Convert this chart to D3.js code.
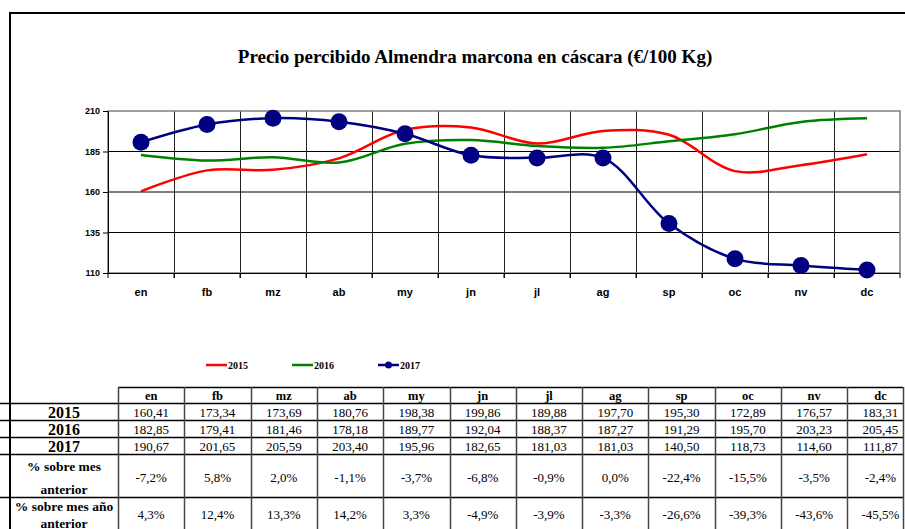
<!DOCTYPE html>
<html>
<head>
<meta charset="utf-8">
<script src="https://cdn.jsdelivr.net/npm/d3@7"></script>
<style>
  body { margin: 0; background: #fff; }
  svg { display: block; }
</style>
</head>
<body>
<div id="chart"></div>
<script>
// data
const months = ["en", "fb", "mz", "ab", "my", "jn", "jl", "ag", "sp", "oc", "nv", "dc"];
const v2015 = [160.41, 173.34, 173.69, 180.76, 198.38, 199.86, 189.88, 197.70, 195.30, 172.89, 176.57, 183.31];
const v2016 = [182.85, 179.41, 181.46, 178.18, 189.77, 192.04, 188.37, 187.27, 191.29, 195.70, 203.23, 205.45];
const v2017 = [190.67, 201.65, 205.59, 203.40, 195.96, 182.65, 181.03, 181.03, 140.50, 118.73, 114.60, 111.87];
const pctMes = ["-7,2%", "5,8%", "2,0%", "-1,1%", "-3,7%", "-6,8%", "-0,9%", "0,0%", "-22,4%", "-15,5%", "-3,5%", "-2,4%"];
const pctAnio = ["4,3%", "12,4%", "13,3%", "14,2%", "3,3%", "-4,9%", "-3,9%", "-3,3%", "-26,6%", "-39,3%", "-43,6%", "-45,5%"];
const yTicks = [110, 135, 160, 185, 210];

const series = [
  { name: "2015", values: v2015, color: "#ff0000", dots: false },
  { name: "2016", values: v2016, color: "#008000", dots: false },
  { name: "2017", values: v2017, color: "#000080", dots: true }
];

const W = 905, H = 529;
const serif = "'Liberation Serif', 'Times New Roman', serif";
const sans = "'Liberation Sans', Arial, sans-serif";

const svg = d3.select("#chart").append("svg").attr("width", W).attr("height", H);

// outer frame (top + left visible)
svg.append("path")
  .attr("d", `M10,${H} V13 H${W + 5}`)
  .attr("fill", "none").attr("stroke", "#000").attr("stroke-width", 2);

svg.append("text")
  .attr("x", 475).attr("y", 63)
  .attr("text-anchor", "middle")
  .attr("font-family", serif).attr("font-weight", "bold").attr("font-size", 19)
  .text("Precio percibido Almendra marcona en cáscara (€/100 Kg)");

// plot area
const plot = { left: 108, right: 900, top: 111, bottom: 273 };
const x = d3.scaleBand().domain(months).range([plot.left, plot.right]);
const y = d3.scaleLinear().domain([110, 210]).range([plot.bottom, plot.top]);

// horizontal gridlines
svg.append("g").selectAll("line").data(yTicks.slice(1, -1)).join("line")
  .attr("x1", plot.left).attr("x2", plot.right)
  .attr("y1", d => y(d)).attr("y2", d => y(d))
  .attr("stroke", "#000").attr("stroke-width", 1);

// vertical gridlines at band edges
const edges = months.slice(1).map(m => x(m));
svg.append("g").selectAll("line").data(edges).join("line")
  .attr("x1", d => Math.round(d) + 0.5).attr("x2", d => Math.round(d) + 0.5)
  .attr("y1", plot.top).attr("y2", plot.bottom + 5)
  .attr("stroke", "#222").attr("stroke-width", 1);

// plot border
svg.append("rect")
  .attr("x", plot.left).attr("y", plot.top)
  .attr("width", plot.right - plot.left).attr("height", plot.bottom - plot.top)
  .attr("fill", "none").attr("stroke", "#808080").attr("stroke-width", 1.5);

// y axis
const yAxis = svg.append("g")
  .attr("transform", `translate(${plot.left},0)`)
  .call(d3.axisLeft(y).tickValues(yTicks).tickSize(5).tickSizeOuter(0));
yAxis.select(".domain").attr("stroke", "#000");
yAxis.selectAll(".tick line").attr("stroke", "#000");
yAxis.selectAll("text")
  .attr("font-family", sans).attr("font-weight", "bold").attr("font-size", 9).attr("fill", "#000");

// x axis
const xAxis = svg.append("g")
  .attr("transform", `translate(0,${plot.bottom})`)
  .call(d3.axisBottom(x).tickSize(0).tickPadding(15));
xAxis.select(".domain").attr("stroke", "#000").attr("d", `M${plot.left - 5},0.5H${plot.right}`);
xAxis.selectAll("text")
  .attr("font-family", sans).attr("font-weight", "bold").attr("font-size", 11).attr("fill", "#000");
svg.append("g").selectAll("line").data([plot.left].concat(edges, [plot.right])).join("line")
  .attr("x1", d => d).attr("x2", d => d)
  .attr("y1", plot.bottom).attr("y2", plot.bottom + 5)
  .attr("stroke", "#000");

// lines
const line = d3.line()
  .x((d, i) => x(months[i]) + x.bandwidth() / 2)
  .y(d => y(d))
  .curve(d3.curveCatmullRom.alpha(0.5));

series.forEach(s => {
  svg.append("path")
    .datum(s.values)
    .attr("d", line)
    .attr("fill", "none")
    .attr("stroke", s.color)
    .attr("stroke-width", 2.5);
  if (s.dots) {
    svg.append("g").selectAll("circle").data(s.values).join("circle")
      .attr("cx", (d, i) => x(months[i]) + x.bandwidth() / 2)
      .attr("cy", d => y(d))
      .attr("r", 8.5)
      .attr("fill", s.color);
  }
});

// legend
const legend = svg.append("g").selectAll("g").data(series).join("g")
  .attr("transform", (d, i) => `translate(${206 + i * 86},365)`);
legend.append("line")
  .attr("x1", 0).attr("x2", 21).attr("y1", 0).attr("y2", 0)
  .attr("stroke", d => d.color).attr("stroke-width", 2.5);
legend.filter(d => d.dots).append("circle")
  .attr("cx", 10.5).attr("cy", 0).attr("r", 3.5).attr("fill", d => d.color);
legend.append("text")
  .attr("x", 22).attr("y", 3.5)
  .attr("font-family", serif).attr("font-weight", "bold").attr("font-size", 10)
  .text(d => d.name);

// data table
const colX = d3.scaleBand().domain(months).range([118, 118 + 12 * 66.3]);
const tableRight = 903;
const rowTops = [387, 403, 420, 437, 454, 497, 540];
const fmt = v => v.toFixed(2).replace(".", ",");

const table = svg.append("g");
// horizontal lines
table.selectAll("line.h").data(rowTops).join("line")
  .attr("class", "h")
  .attr("x1", (d, i) => i === 0 ? 118 : 0).attr("x2", tableRight)
  .attr("y1", d => d + 0.5).attr("y2", d => d + 0.5)
  .attr("stroke", "#000").attr("stroke-width", 1.5);
// vertical lines
const vEdges = months.map(m => colX(m)).concat([tableRight]);
table.selectAll("line.v").data(vEdges).join("line")
  .attr("class", "v")
  .attr("x1", d => Math.round(d) + 0.5).attr("x2", d => Math.round(d) + 0.5)
  .attr("y1", rowTops[0]).attr("y2", H)
  .attr("stroke", "#444").attr("stroke-width", 1.5);

const cx = m => colX(m) + colX.bandwidth() / 2;

// header
table.selectAll("text.hd").data(months).join("text")
  .attr("class", "hd")
  .attr("x", cx).attr("y", 399.5)
  .attr("text-anchor", "middle")
  .attr("font-family", serif).attr("font-weight", "bold").attr("font-size", 12.5)
  .text(d => d);

// value rows (label line positions given as baselines)
const rows = [
  { label: ["2015"], lineY: [417.5], vals: v2015.map(fmt), valY: 416.5, size: 16 },
  { label: ["2016"], lineY: [434.5], vals: v2016.map(fmt), valY: 433.5, size: 16 },
  { label: ["2017"], lineY: [451.5], vals: v2017.map(fmt), valY: 450.5, size: 16 },
  { label: ["% sobre mes", "anterior"], lineY: [470.5, 493.5], vals: pctMes, valY: 481.5, size: 13.5 },
  { label: ["% sobre mes año", "anterior"], lineY: [510.5, 527.5], vals: pctAnio, valY: 518.5, size: 13.5 }
];

rows.forEach(r => {
  const lbl = table.append("text")
    .attr("text-anchor", "middle")
    .attr("font-family", serif).attr("font-weight", "bold").attr("font-size", r.size);
  r.label.forEach((t, k) => {
    lbl.append("tspan").attr("x", 64).attr("y", r.lineY[k]).text(t);
  });
  table.append("g").selectAll("text").data(r.vals).join("text")
    .attr("x", (d, i) => cx(months[i]))
    .attr("y", r.valY)
    .attr("text-anchor", "middle")
    .attr("font-family", serif).attr("font-size", 13)
    .text(d => d);
});
</script>
</body>
</html>
